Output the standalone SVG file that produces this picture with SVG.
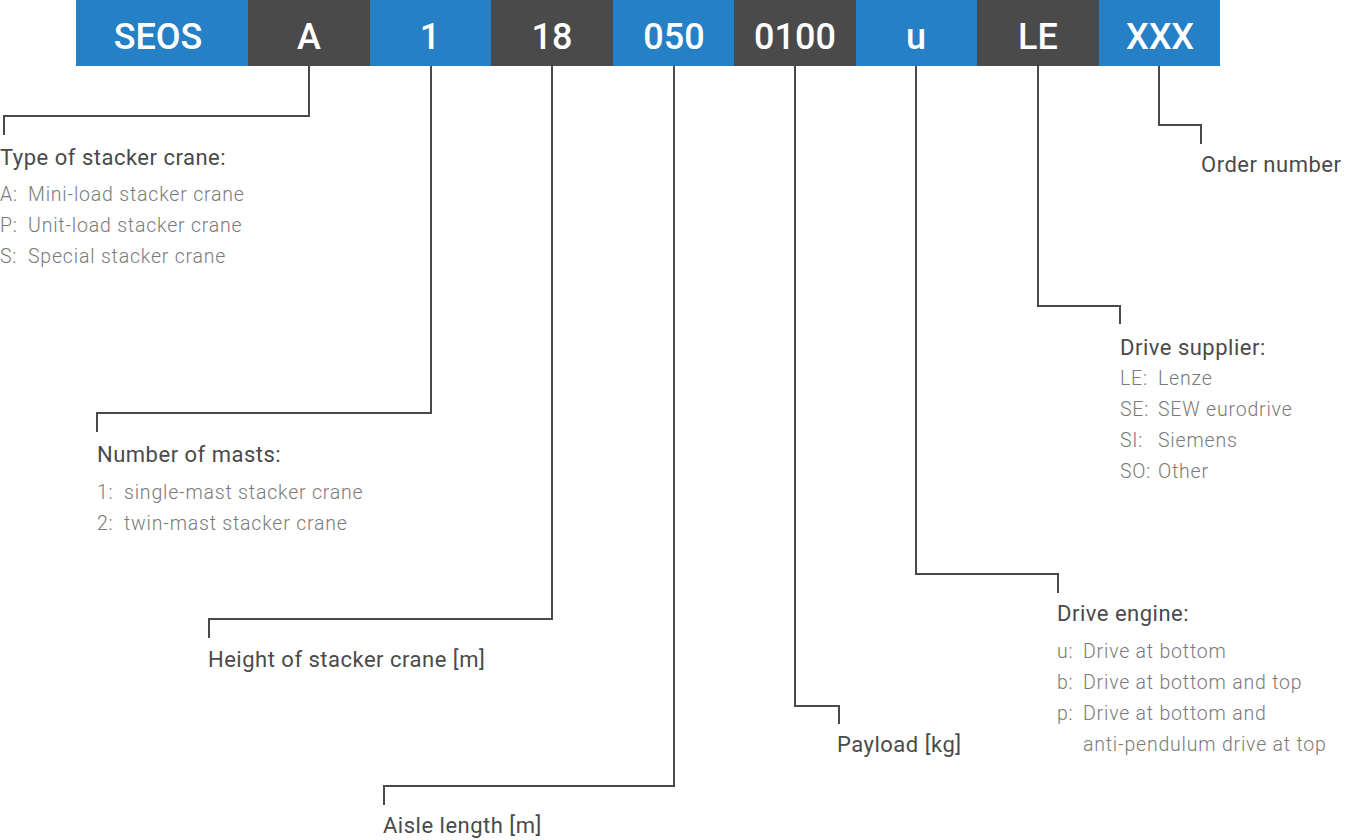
<svg xmlns="http://www.w3.org/2000/svg" width="1348" height="840" viewBox="0 0 1348 840">
<style>
.blue{fill:#2680c6}
.dark{fill:#4a4a4a}
.code{font-family:Roboto,"Liberation Sans",sans-serif;font-size:36px;font-weight:500;fill:#fff;text-anchor:middle}
.head{font-family:Roboto,"Liberation Sans",sans-serif;font-size:22px;font-weight:400;fill:#4a4a4a;letter-spacing:0.5px}
.item{font-family:Roboto,"Liberation Sans",sans-serif;font-size:19.5px;font-weight:300;fill:#7a7a7a;letter-spacing:0.8px}
.conn{fill:none;stroke:#4a4a4a;stroke-width:2}
</style>
<rect width="1348" height="840" fill="#fff"/>
<g id="code-bar">
<g id="seg-seos"><rect class="blue" x="76" y="0" width="172" height="66"/><text class="code" x="158" y="49">SEOS</text></g>
<g id="seg-a"><rect class="dark" x="248" y="0" width="122" height="66"/><text class="code" x="309" y="49">A</text></g>
<g id="seg-1"><rect class="blue" x="370" y="0" width="121" height="66"/><text class="code" x="430" y="49">1</text></g>
<g id="seg-18"><rect class="dark" x="491" y="0" width="122" height="66"/><text class="code" x="552" y="49">18</text></g>
<g id="seg-050"><rect class="blue" x="613" y="0" width="121" height="66"/><text class="code" x="674" y="49">050</text></g>
<g id="seg-0100"><rect class="dark" x="734" y="0" width="122" height="66"/><text class="code" x="795" y="49">0100</text></g>
<g id="seg-u"><rect class="blue" x="856" y="0" width="121" height="66"/><text class="code" x="916" y="49">u</text></g>
<g id="seg-le"><rect class="dark" x="977" y="0" width="122" height="66"/><text class="code" x="1038" y="49">LE</text></g>
<g id="seg-xxx"><rect class="blue" x="1099" y="0" width="121" height="66"/><text class="code" x="1160" y="49">XXX</text></g>
</g>
<g id="connectors">
<polyline class="conn" points="309,66 309,116 4,116 4,135"/>
<polyline class="conn" points="431,66 431,413 97,413 97,432"/>
<polyline class="conn" points="552,66 552,619 209,619 209,638"/>
<polyline class="conn" points="674,66 674,786 384,786 384,805"/>
<polyline class="conn" points="795,66 795,706 839,706 839,724"/>
<polyline class="conn" points="916,66 916,574 1058,574 1058,593"/>
<polyline class="conn" points="1038,66 1038,306 1120,306 1120,324"/>
<polyline class="conn" points="1159,66 1159,125 1201,125 1201,144"/>
</g>
<g id="label-type">
<text class="head" x="0" y="165">Type of stacker crane:</text>
<text class="item" y="201"><tspan x="0">A:</tspan><tspan x="28">Mini-load stacker crane</tspan></text>
<text class="item" y="232"><tspan x="0">P:</tspan><tspan x="28">Unit-load stacker crane</tspan></text>
<text class="item" y="263"><tspan x="0">S:</tspan><tspan x="28">Special stacker crane</tspan></text>
</g>
<g id="label-masts">
<text class="head" x="97" y="462">Number of masts:</text>
<text class="item" y="499"><tspan x="97">1:</tspan><tspan x="124">single-mast stacker crane</tspan></text>
<text class="item" y="530"><tspan x="97">2:</tspan><tspan x="124">twin-mast stacker crane</tspan></text>
</g>
<g id="label-height"><text class="head" x="208" y="667">Height of stacker crane [m]</text></g>
<g id="label-aisle"><text class="head" x="383" y="833">Aisle length [m]</text></g>
<g id="label-payload"><text class="head" x="837" y="752">Payload [kg]</text></g>
<g id="label-engine">
<text class="head" x="1057" y="621">Drive engine:</text>
<text class="item" y="658"><tspan x="1057">u:</tspan><tspan x="1083">Drive at bottom</tspan></text>
<text class="item" y="689"><tspan x="1057">b:</tspan><tspan x="1083">Drive at bottom and top</tspan></text>
<text class="item" y="720"><tspan x="1057">p:</tspan><tspan x="1083">Drive at bottom and</tspan></text>
<text class="item" x="1083" y="751">anti-pendulum drive at top</text>
</g>
<g id="label-supplier">
<text class="head" x="1120" y="355">Drive supplier:</text>
<text class="item" y="385"><tspan x="1120">LE:</tspan><tspan x="1158">Lenze</tspan></text>
<text class="item" y="416"><tspan x="1120">SE:</tspan><tspan x="1158">SEW eurodrive</tspan></text>
<text class="item" y="447"><tspan x="1120">SI:</tspan><tspan x="1158">Siemens</tspan></text>
<text class="item" y="478"><tspan x="1120">SO:</tspan><tspan x="1158">Other</tspan></text>
</g>
<g id="label-order"><text class="head" x="1201" y="172">Order number</text></g>
</svg>
